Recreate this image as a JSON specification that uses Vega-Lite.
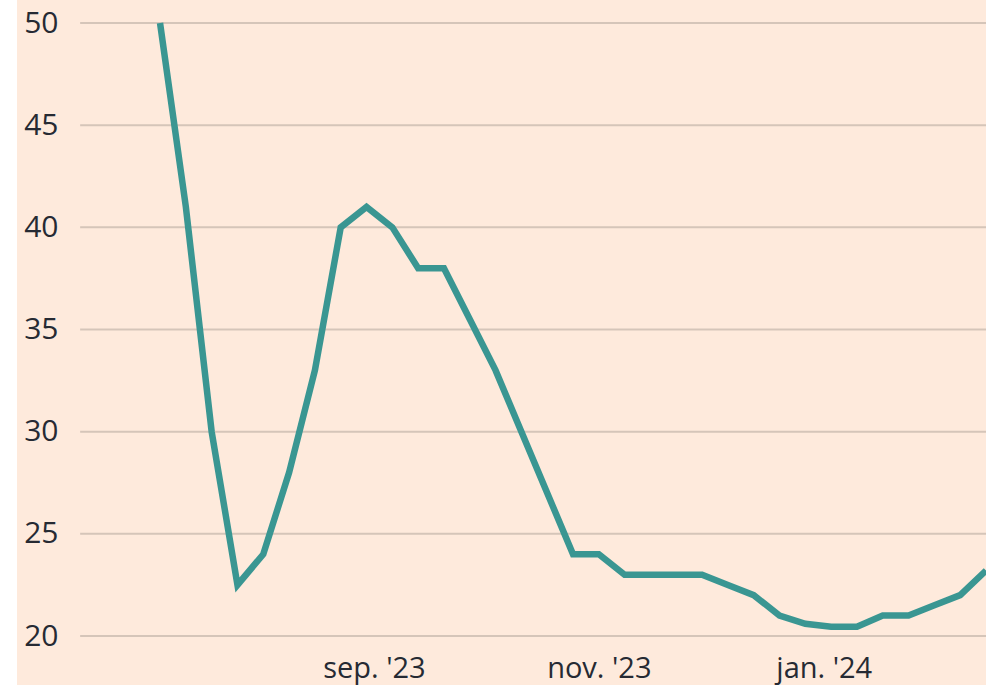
{
  "$schema": "https://vega.github.io/schema/vega-lite/v6.json",
  "autosize": "none",
  "width": 969,
  "height": 685,
  "padding": {"left": 17, "right": 9, "top": 0, "bottom": 0},
  "background": "#ffffff",
  "config": {
    "view": {"fill": "#FEEADC", "stroke": null},
    "font": "Open Sans"
  },
  "datasets": {
    "series": [
      {"date": "2023-07-05T00:00:00", "value": 50},
      {"date": "2023-07-12T00:00:00", "value": 41},
      {"date": "2023-07-19T00:00:00", "value": 30},
      {"date": "2023-07-26T00:00:00", "value": 22.5},
      {"date": "2023-08-02T00:00:00", "value": 24},
      {"date": "2023-08-09T00:00:00", "value": 28},
      {"date": "2023-08-16T00:00:00", "value": 33},
      {"date": "2023-08-23T00:00:00", "value": 40},
      {"date": "2023-08-30T00:00:00", "value": 41},
      {"date": "2023-09-06T00:00:00", "value": 40},
      {"date": "2023-09-13T00:00:00", "value": 38},
      {"date": "2023-09-20T00:00:00", "value": 38},
      {"date": "2023-09-27T00:00:00", "value": 35.5},
      {"date": "2023-10-04T00:00:00", "value": 33},
      {"date": "2023-10-11T00:00:00", "value": 30},
      {"date": "2023-10-18T00:00:00", "value": 27},
      {"date": "2023-10-25T00:00:00", "value": 24},
      {"date": "2023-11-01T00:00:00", "value": 24},
      {"date": "2023-11-08T00:00:00", "value": 23},
      {"date": "2023-11-15T00:00:00", "value": 23},
      {"date": "2023-11-22T00:00:00", "value": 23},
      {"date": "2023-11-29T00:00:00", "value": 23},
      {"date": "2023-12-06T00:00:00", "value": 22.5},
      {"date": "2023-12-13T00:00:00", "value": 22},
      {"date": "2023-12-20T00:00:00", "value": 21},
      {"date": "2023-12-27T00:00:00", "value": 20.6},
      {"date": "2024-01-03T00:00:00", "value": 20.45},
      {"date": "2024-01-10T00:00:00", "value": 20.45},
      {"date": "2024-01-17T00:00:00", "value": 21},
      {"date": "2024-01-24T00:00:00", "value": 21},
      {"date": "2024-01-31T00:00:00", "value": 21.5},
      {"date": "2024-02-07T00:00:00", "value": 22},
      {"date": "2024-02-14T00:00:00", "value": 23.2}
    ],
    "grid": [
      {"start": "2023-06-13T08:00:00", "end": "2024-02-14T00:00:00", "value": 20},
      {"start": "2023-06-13T08:00:00", "end": "2024-02-14T00:00:00", "value": 25},
      {"start": "2023-06-13T08:00:00", "end": "2024-02-14T00:00:00", "value": 30},
      {"start": "2023-06-13T08:00:00", "end": "2024-02-14T00:00:00", "value": 35},
      {"start": "2023-06-13T08:00:00", "end": "2024-02-14T00:00:00", "value": 40},
      {"start": "2023-06-13T08:00:00", "end": "2024-02-14T00:00:00", "value": 45},
      {"start": "2023-06-13T08:00:00", "end": "2024-02-14T00:00:00", "value": 50}
    ]
  },
  "layer": [
    {
      "data": {"name": "grid"},
      "mark": {"type": "rule", "color": "#D5C5B9", "strokeWidth": 2},
      "encoding": {
        "x": {"field": "start", "type": "temporal"},
        "x2": {"field": "end"},
        "y": {"field": "value", "type": "quantitative"}
      }
    },
    {
      "data": {"name": "series"},
      "mark": {"type": "line", "color": "#3A9692", "strokeWidth": 6.5, "strokeJoin": "miter", "strokeCap": "butt", "clip": true},
      "encoding": {
        "x": {
          "field": "date",
          "type": "temporal",
          "scale": {"domain": ["2023-05-27T05:00:00", "2024-02-14T00:00:00"], "nice": false},
          "axis": {
            "title": null,
            "domain": false,
            "ticks": false,
            "grid": false,
            "offset": -49,
            "labelPadding": 41,
            "labelBaseline": "alphabetic",
            "labelFontSize": 29,
            "labelColor": "#262A33",
            "labelFont": "Open Sans",
            "values": [
              {"year": 2023, "month": 9, "date": 1},
              {"year": 2023, "month": 11, "date": 1},
              {"year": 2024, "month": 1, "date": 1}
            ],
            "labelExpr": "lower(timeFormat(datum.value, '%b')) + \". '\" + timeFormat(datum.value, '%y')"
          }
        },
        "y": {
          "field": "value",
          "type": "quantitative",
          "scale": {"domain": [17.602, 51.126], "nice": false, "zero": false},
          "axis": {
            "title": null,
            "domain": false,
            "ticks": false,
            "grid": false,
            "values": [20, 25, 30, 35, 40, 45, 50],
            "labelPadding": -41,
            "labelAlign": "right",
            "labelFontSize": 30,
            "labelColor": "#262A33",
            "labelFont": "Open Sans"
          }
        }
      }
    }
  ]
}
